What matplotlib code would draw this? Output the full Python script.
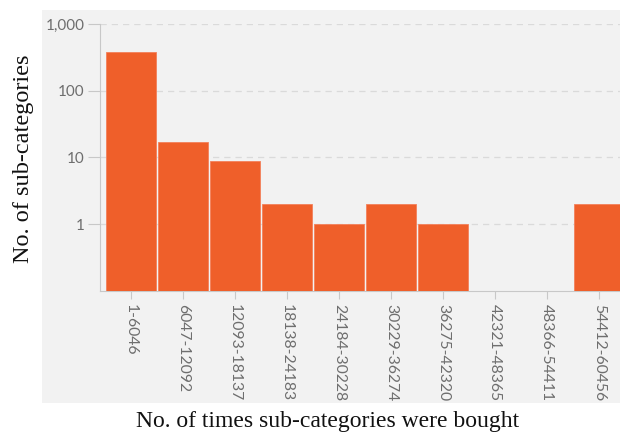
import matplotlib
matplotlib.use("Agg")
import matplotlib.pyplot as plt
from matplotlib.patches import Rectangle
from matplotlib.ticker import FixedLocator, NullLocator

# purchase-count bins and number of sub-categories in each
bins = ["1-6046", "6047-12092", "12093-18137", "18138-24183", "24184-30228",
        "30229-36274", "36275-42320", "42321-48365", "48366-54411", "54412-60456"]
counts = [380, 17, 9, 2, 1, 2, 1, 0, 0, 2]

y_ticks = [1, 10, 100, 1000]
y_tick_labels = ["1", "10", "100", "1,000"]

fig = plt.figure(figsize=(6.2, 4.4), dpi=100)

# light grey chart panel behind the axes
fig.patches.append(Rectangle((0.068, 0.084), 0.94, 0.893, transform=fig.transFigure,
                             facecolor="#f2f2f2", edgecolor="none", zorder=-1))

ax = fig.add_axes([0.161, 0.3386, 0.845, 0.607])
ax.set_zorder(2)
ax.set_facecolor("none")

x = range(len(bins))
ax.bar(x, counts, width=0.965, color="#ef5f2a", edgecolor="#f3805a",
       linewidth=0.6, zorder=3)

ax.set_yscale("log")
ax.set_ylim(0.1, 1000)
ax.set_xlim(-0.6, 9.47)
ax.yaxis.set_major_locator(FixedLocator(y_ticks))
ax.yaxis.set_minor_locator(NullLocator())
ax.set_yticklabels(y_tick_labels)
ax.set_xticks(list(x))
ax.set_xticklabels(bins, rotation=-90)

ax.grid(axis="y", color="#dadada", linestyle=(0, (5, 4)), linewidth=0.9, zorder=1)
for s in ["top", "right"]:
    ax.spines[s].set_visible(False)
ax.spines["left"].set_color("#c8c8c8")
ax.spines["bottom"].set_color("#c8c8c8")

ax.tick_params(axis="y", length=9, color="#c8c8c8", labelcolor="#6e6e6e",
               labelsize=11, pad=2)
ax.tick_params(axis="x", length=6, color="#c8c8c8", labelcolor="#6e6e6e",
               labelsize=11.3, pad=3)
for lbl in ax.get_xticklabels() + ax.get_yticklabels():
    lbl.set_family("Lato")

fig.text(0.038, 0.64, "No. of sub-categories", rotation=90, ha="center", va="center",
         family="Liberation Serif", fontsize=17.5, color="#111111")
fig.text(0.528, 0.041, "No. of times sub-categories were bought", ha="center", va="center",
         family="Liberation Serif", fontsize=17, color="#111111")

fig.savefig("out.png", dpi=100)
